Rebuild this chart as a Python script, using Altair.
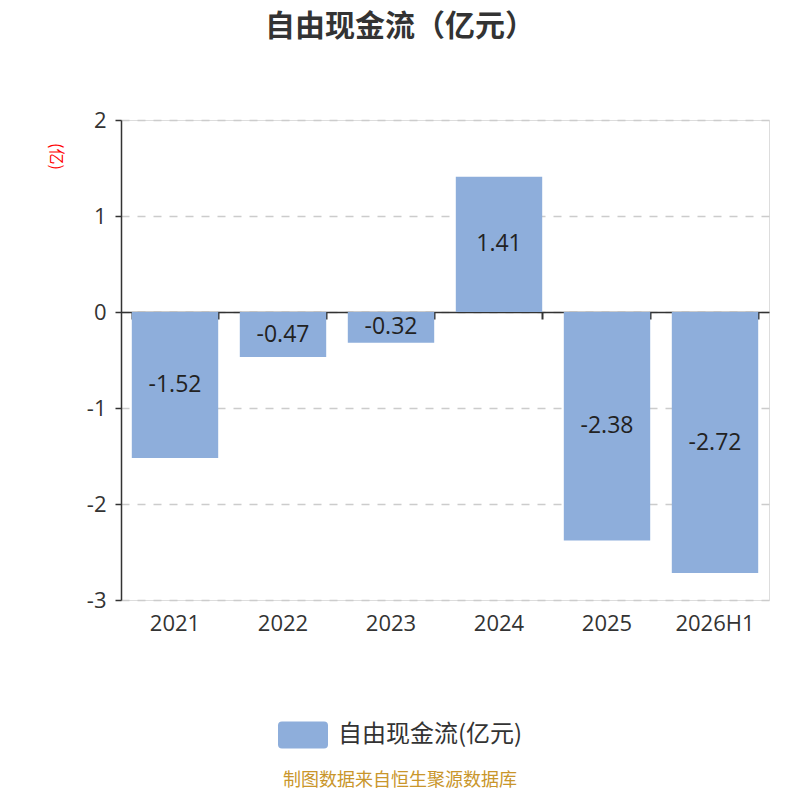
import altair as alt
import pandas as pd

years = ["2021", "2022", "2023", "2024", "2025", "2026H1"]
values = [-1.52, -0.47, -0.32, 1.41, -2.38, -2.72]
labels = ["-1.52", "-0.47", "-0.32", "1.41", "-2.38", "-2.72"]
series_name = "自由现金流(亿元)"
y_ticks = [-3, -2, -1, 0, 1, 2]
title_text = "自由现金流（亿元）"
footer_text = "制图数据来自恒生聚源数据库"

df = pd.DataFrame({"year": years, "value": values, "label": labels, "series": series_name})

NUM_FONT = "Open Sans"
CJK_FONT = "Noto Sans CJK SC"
BAR_COLOR = "#8eaedb"

x_scale = alt.Scale(domain=years, paddingInner=0.2, paddingOuter=0.1)
y_scale = alt.Scale(domain=[-3, 2], nice=False)

rounded = ("M-0.84,-0.54 L0.84,-0.54 Q1,-0.54 1,-0.38 L1,0.38 Q1,0.54 0.84,0.54 "
           "L-0.84,0.54 Q-1,0.54 -1,0.38 L-1,-0.38 Q-1,-0.54 -0.84,-0.54 Z")

y_axis = alt.Axis(values=y_ticks, grid=True, gridDash=[8, 8], gridColor="#cccccc",
                  gridWidth=1.5,
                  domain=True, domainColor="#333", domainWidth=1.5,
                  ticks=True, tickColor="#333", tickSize=6, tickWidth=1.5,
                  labelFontSize=22, labelColor="#333", labelFont=NUM_FONT,
                  labelPadding=9, labelExpr="toString(datum.value)",
                  titleColor="red", titleFontSize=16, titleFont=CJK_FONT,
                  titleFontWeight="normal", titleAngle=90, titleX=-66, titleY=36,
                  titleAlign="center", titleBaseline="middle")

bars = alt.Chart(df).mark_bar().encode(
    x=alt.X("year:N", scale=x_scale, sort=years, title=None,
            axis=alt.Axis(labelAngle=0, domain=False, ticks=False, grid=False,
                          labelFontSize=22, labelColor="#333", labelFont=NUM_FONT,
                          labelPadding=13, orient="bottom")),
    y=alt.Y("value:Q", scale=y_scale, title="(亿)", axis=y_axis),
    y2=alt.datum(0),
    color=alt.Color("series:N", scale=alt.Scale(domain=[series_name], range=[BAR_COLOR]),
                    legend=alt.Legend(title=None, orient="none", legendX=157, legendY=590,
                                      symbolType=rounded, symbolSize=2500, symbolStrokeWidth=0,
                                      labelFontSize=24, labelColor="#333", labelFont=CJK_FONT,
                                      labelOffset=10, labelLimit=400, padding=0)),
)

text = alt.Chart(df).transform_calculate(mid="datum.value / 2").mark_text(
    fontSize=23, color="#222", font=NUM_FONT, baseline="middle", align="center"
).encode(
    x=alt.X("year:N", scale=x_scale, sort=years, title=None,
            axis=alt.Axis(labels=False, domain=True, domainColor="#333", domainWidth=1.5,
                          ticks=True, tickBand="extent", tickSize=7, tickColor="#333",
                          tickWidth=2, grid=False, offset=-288, orient="bottom")),
    y=alt.Y("mid:Q", scale=y_scale, title="(亿)", axis=y_axis),
    text="label:N",
)

footer = alt.Chart(pd.DataFrame({"t": [footer_text]})).mark_text(
    fontSize=18, color="#c9962b", font=CJK_FONT, align="center", baseline="middle"
).encode(x=alt.value(279), y=alt.value(661), text="t:N")

chart = alt.layer(bars, text, footer).resolve_axis(x="independent").properties(
    width=648, height=480,
    autosize=alt.AutoSizeParams(type="none"),
    padding={"left": 113, "top": 112, "right": 20, "bottom": 190},
    title=alt.TitleParams(title_text, fontSize=30, fontWeight="bold", color="#333",
                          font=CJK_FONT, anchor="middle", dx=-45, offset=67),
).configure_view(strokeWidth=0).configure(background="white")

chart.save("out.html", embed_options={"renderer": "svg", "actions": False})
